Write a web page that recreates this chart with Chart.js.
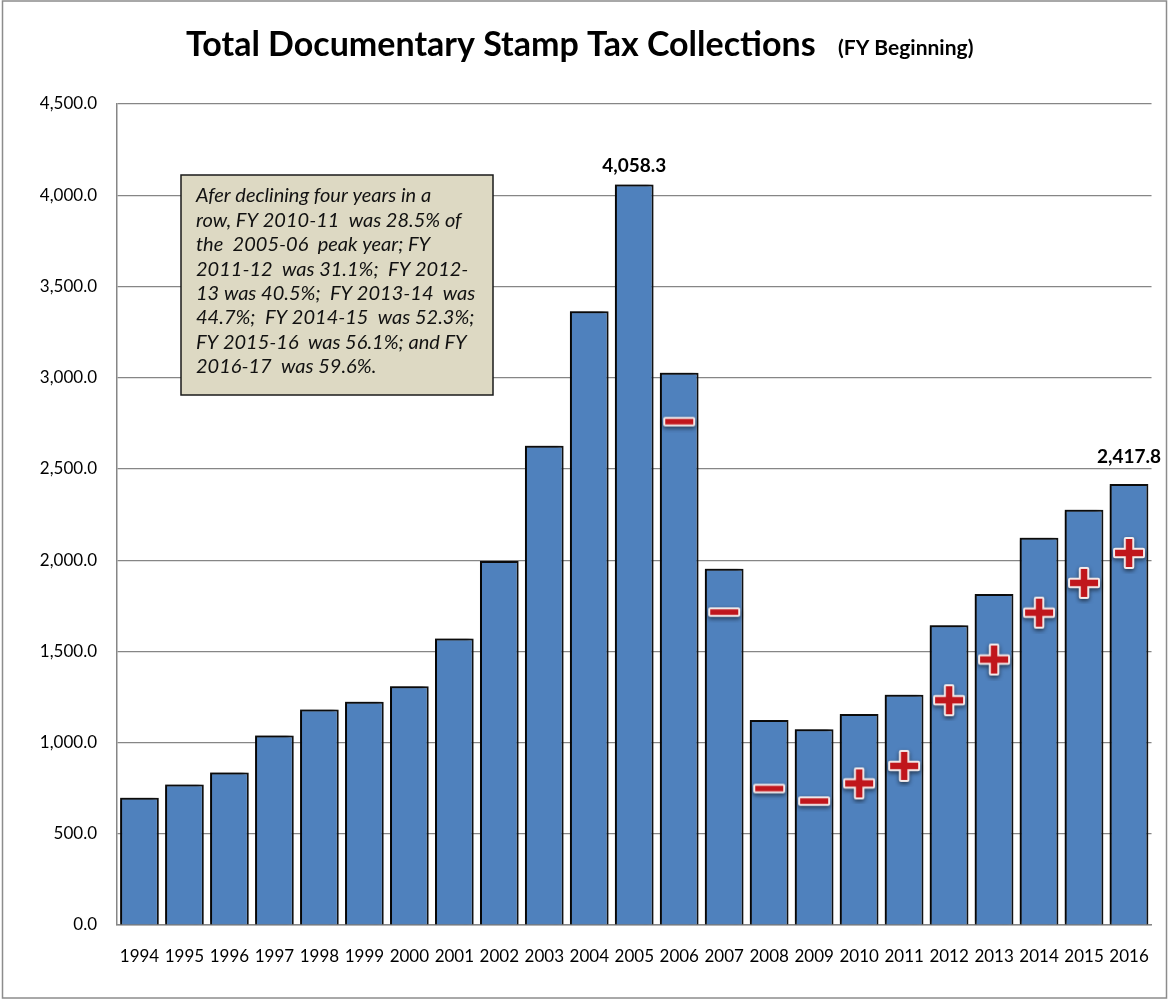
<!DOCTYPE html>
<html>
<head>
<meta charset="utf-8">
<script src="https://cdn.jsdelivr.net/npm/chart.js@4.4.1/dist/chart.umd.min.js"></script>
<style>
  html, body { margin: 0; padding: 0; background: #fff; }
  #wrap { width: 1170px; height: 1001px; }
</style>
</head>
<body>
<div id="wrap"><canvas id="stampChart" width="1170" height="1001"></canvas></div>
<script>
/* ================= DATA ================= */

const years = ["1994", "1995", "1996", "1997", "1998", "1999", "2000", "2001",
  "2002", "2003", "2004", "2005", "2006", "2007", "2008", "2009", "2010",
  "2011", "2012", "2013", "2014", "2015", "2016"];

const collections = [697, 770, 836, 1039, 1181, 1223, 1309, 1570,
  1995, 2627, 3364, 4058.3, 3027, 1953, 1123, 1073, 1156.6,
  1262.1, 1643.6, 1814.1, 2122.5, 2276.7, 2417.8];

// up / down signs placed inside the bars
const signs = [null, null, null, null, null, null, null, null,
  null, null, null, null, "-", "-", "-", "-", "+",
  "+", "+", "+", "+", "+", "+"];
const signLevels = [null, null, null, null, null, null, null, null,
  null, null, null, null, 2759, 1715, 748, 679, 776,
  872, 1232, 1455, 1712, 1875, 2039];

const labelledYears = ["2005", "2016"];

const yTicks = { min: 0, max: 4500, step: 500 };

const noteLines = [
  "Afer declining four years in a",
  "row, FY 2010-11  was 28.5% of",
  "the  2005-06  peak year; FY",
  "2011-12  was 31.1%;  FY 2012-",
  "13 was 40.5%;  FY 2013-14  was",
  "44.7%;  FY 2014-15  was 52.3%;",
  "FY 2015-16  was 56.1%; and FY",
  "2016-17  was 59.6%."
];

/* ================= HELPERS ================= */

const fmt = v => v.toLocaleString("en-US", { minimumFractionDigits: 1, maximumFractionDigits: 1 });

function makeSign(plus) {
  const c = document.createElement("canvas");
  c.width = 42;
  c.height = plus ? 42 : 22;
  const g = c.getContext("2d");
  const cx = 21, cy = c.height / 2, arm = 14, th = plus ? 6.5 : 5.5;
  g.beginPath();
  g.rect(cx - arm, cy - th / 2, arm * 2, th);
  if (plus) g.rect(cx - th / 2, cy - arm, th, arm * 2);
  g.save();
  g.shadowColor = "rgba(0,0,0,0.6)";
  g.shadowBlur = 4;
  g.shadowOffsetY = 2;
  g.lineJoin = "round";
  g.lineWidth = 4;
  g.strokeStyle = "#f4ecec";
  g.stroke();
  g.restore();
  g.fillStyle = "#c0161c";
  g.fill();
  return c;
}
const plusImg = makeSign(true);
const minusImg = makeSign(false);

/* ================= PLUGINS ================= */

const frame = {
  id: "frame",
  beforeDraw(chart) {
    const ctx = chart.ctx;
    ctx.save();
    ctx.fillStyle = "#fff";
    ctx.fillRect(0, 0, chart.width, chart.height);
    ctx.strokeStyle = "#8c8c8c";
    ctx.lineWidth = 1.5;
    ctx.strokeRect(2.5, 1, 1164, 997);
    ctx.restore();
  },
  afterDraw(chart) {
    const ctx = chart.ctx;
    ctx.save();
    ctx.fillStyle = "#000";
    ctx.textBaseline = "alphabetic";
    ctx.font = "bold 34px Lato";
    ctx.fillText("Total Documentary Stamp Tax Collections", 186, 56);
    ctx.font = "bold 21px Lato";
    ctx.fillText("(FY Beginning)", 838, 55);

    // note box
    ctx.fillStyle = "#ddd9c3";
    ctx.fillRect(181, 175, 312, 220);
    ctx.strokeStyle = "#1a1a1a";
    ctx.lineWidth = 1.5;
    ctx.strokeRect(181, 175, 312, 220);
    ctx.fillStyle = "#111";
    ctx.font = "italic 20px Lato";
    ctx.textBaseline = "middle";
    noteLines.forEach((t, i) => ctx.fillText(t, 196, 196 + i * 24.4));
    ctx.restore();
  }
};

const barShadow = {
  id: "barShadow",
  beforeDatasetDraw(chart, args) {
    if (args.index !== 0) return;
    const ctx = chart.ctx;
    ctx.save();
    ctx.shadowColor = "rgba(0,0,0,0.7)";
    ctx.shadowBlur = 4;
    ctx.shadowOffsetX = -4;
    ctx.shadowOffsetY = -1;
  },
  afterDatasetDraw(chart, args) {
    if (args.index !== 0) return;
    chart.ctx.restore();
  }
};

const valueLabels = {
  id: "valueLabels",
  afterDatasetsDraw(chart) {
    const ctx = chart.ctx;
    const meta = chart.getDatasetMeta(0);
    ctx.save();
    ctx.font = "bold 19px Lato";
    ctx.fillStyle = "#000";
    ctx.textAlign = "center";
    ctx.textBaseline = "bottom";
    labelledYears.forEach(y => {
      const i = years.indexOf(y);
      const bar = meta.data[i];
      const lift = i === years.length - 1 ? 18 : 9;
      ctx.fillText(fmt(collections[i]), bar.x, bar.y - lift);
    });
    ctx.restore();
  }
};

/* ================= CHART ================= */

new Chart(document.getElementById("stampChart"), {
  type: "bar",
  data: {
    labels: years,
    datasets: [{
      data: collections,
      backgroundColor: "#4f81bd",
      borderColor: "#111",
      borderWidth: 2,
      barPercentage: 0.86,
      categoryPercentage: 1,
      order: 2
    }, {
      type: "line",
      data: signLevels,
      showLine: false,
      pointStyle: c => signs[c.dataIndex] === "+" ? plusImg : minusImg,
      pointRadius: 10,
      order: 1
    }]
  },
  options: {
    responsive: false,
    animation: false,
    layout: { padding: { top: 104, right: 9, bottom: 26, left: 0 } },
    plugins: {
      legend: { display: false },
      tooltip: { enabled: false },
      title: { display: false }
    },
    scales: {
      x: {
        grid: { display: false, drawTicks: false },
        border: { color: "#868686", width: 1.5 },
        ticks: { color: "#000", font: { family: "Lato", size: 17 }, padding: 21, maxRotation: 0, autoSkip: false },
        afterFit: s => { s.height = 50; }
      },
      y: {
        min: yTicks.min,
        max: yTicks.max,
        grid: { color: "#868686", lineWidth: 1.2, drawTicks: false },
        border: { color: "#868686", width: 1.5 },
        ticks: {
          stepSize: yTicks.step,
          color: "#000",
          font: { family: "Lato", size: 17 },
          padding: 20,
          callback: v => fmt(v)
        },
        afterFit: s => { s.width = 117; }
      }
    }
  },
  plugins: [frame, barShadow, valueLabels]
});
</script>
</body>
</html>
